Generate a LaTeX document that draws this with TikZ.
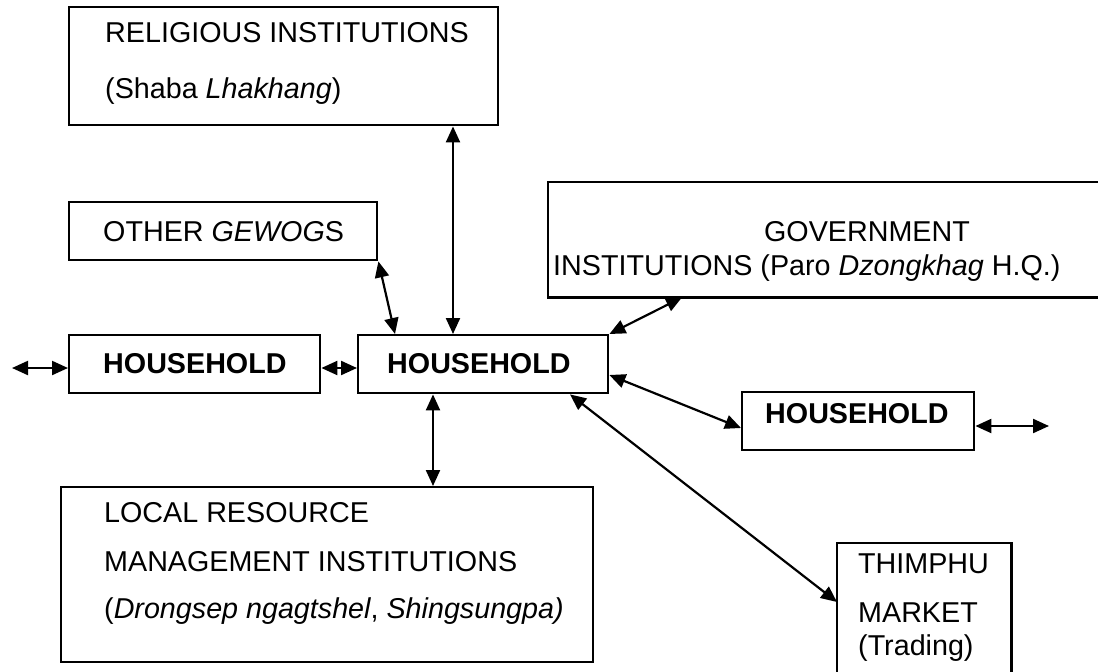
\documentclass[tikz,border=0pt]{standalone}
\usepackage{fontspec}
\setmainfont{Liberation Sans}
\usetikzlibrary{arrows.meta,calc}
\begin{document}
\begin{tikzpicture}[x=1pt,y=-1pt,
  box/.style={draw,line width=2.4pt,inner sep=0pt,anchor=north west},
  frame/.style={inner sep=0pt,anchor=north west},
  edge/.style={line width=2.4pt},
  lbl/.style={anchor=base west,inner sep=0pt,font=\fontsize{28.7}{34}\selectfont},
  blbl/.style={anchor=base west,inner sep=0pt,font=\fontsize{28.7}{34}\selectfont\bfseries},
  link/.style={line width=2.2pt,{Triangle[length=16pt,width=14pt]}-{Triangle[length=16pt,width=14pt]}}]
\useasboundingbox (0,0) rectangle (1098,672);

% boxes
\node[box,minimum width=429pt,minimum height=118pt] (rel) at (68,6) {};
\node[box,minimum width=308pt,minimum height=58pt] (gew) at (68,201) {};
\node[frame,minimum width=560pt,minimum height=115pt] (gov) at (548,182) {};
\draw[edge] (gov.north east) -- (gov.north west) -- (gov.south west) -- (gov.south east);
\node[box,minimum width=251pt,minimum height=58pt] (hhL) at (68,334) {};
\node[box,minimum width=250pt,minimum height=58pt] (hhC) at (357,334) {};
\node[box,minimum width=232pt,minimum height=58pt] (hhR) at (741,391) {};
\node[box,minimum width=532pt,minimum height=175pt] (loc) at (60,486) {};
\node[frame,minimum width=174pt,minimum height=140pt] (thim) at (837,543) {};
\draw[edge] (thim.south west) -- (thim.north west) -- (thim.north east) -- (thim.south east);

% texts
\node[lbl] (relA) at (105,42) {RELIGIOUS INSTITUTIONS};
\node[lbl] (relB) at (105,98) {(Shaba \textit{Lhakhang})};
\node[lbl] (gewA) at (103,241) {OTHER \textit{GEWOG}S};
\node[lbl,anchor=base] (govA) at (867,241) {GOVERNMENT};
\node[lbl] (govB) at (553,275) {INSTITUTIONS (Paro \textit{Dzongkhag} H.Q.)};
\node[blbl] (hhLt) at (103,373) {HOUSEHOLD};
\node[blbl] (hhCt) at (387,373) {HOUSEHOLD};
\node[blbl] (hhRt) at (765,423) {HOUSEHOLD};
\node[lbl] (locA) at (104,522) {LOCAL RESOURCE};
\node[lbl] (locB) at (104,571) {MANAGEMENT INSTITUTIONS};
\node[lbl] (locC) at (104,618) {(\textit{Drongsep ngagtshel}, \textit{Shingsungpa)}};
\node[lbl] (thimA) at (858,573) {THIMPHU};
\node[lbl] (thimB) at (858,622) {MARKET};
\node[lbl] (thimC) at (858,655) {(Trading)};

% free ends
\coordinate (lfree) at (12,368);
\coordinate (rfree) at (1049,426);

% connectors
\draw[link] (lfree) -- (hhL.west |- lfree);
\draw[link] (hhL.east |- lfree) -- (hhC.west |- lfree);
\draw[link] (gew.south east) -- ($(hhC.north west)+(38,0)$);
\draw[link] ($(rel.south west)+(385,0)$) -- ($(hhC.north west)+(96,0)$);
\draw[link] ($(gov.south west)+(134,0)$) -- (hhC.north east);
\draw[link] ($(hhC.north east)+(0,41)$) -- ($(hhR.north west)+(0,37)$);
\draw[link] (hhR.east |- rfree) -- (rfree);
\draw[link] ($(hhC.south west)+(213,0)$) -- ($(thim.north west)+(0,59)$);
\draw[link] ($(hhC.south west)+(76,0)$) -- ($(loc.north west)+(373,0)$);
\end{tikzpicture}
\end{document}
